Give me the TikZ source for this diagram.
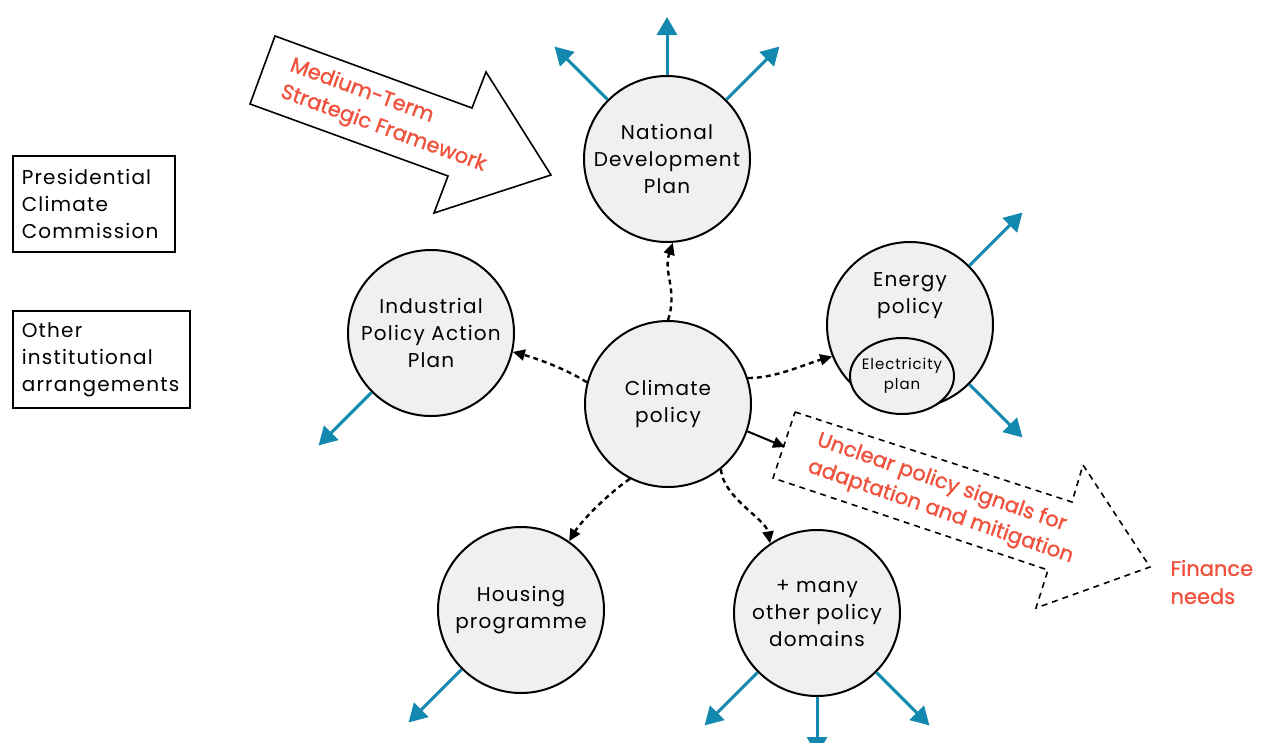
\documentclass[tikz,border=0pt]{standalone}
\usepackage{fontspec}
\setmainfont{Poppins}
\newfontfamily\labelfont[LetterSpace=6]{Poppins}
\newfontfamily\redfont[FakeBold=1.2]{Poppins}
\usepackage{xcolor}
\usepackage{tikz}
\usetikzlibrary{
  arrows.meta,
  shapes.geometric
}
\definecolor{flowblue}{RGB}{20,137,176}
\definecolor{signalred}{RGB}{240,82,62}
\definecolor{discfill}{RGB}{240,240,240}

\begin{document}
\begin{tikzpicture}[x=1pt, y=1pt, >=Stealth, font=\labelfont\fontsize{20}{27}\selectfont,
    policy/.style={circle, draw, line width=2pt, fill=discfill, minimum size=166pt, inner sep=0pt, align=center},
    infobox/.style={draw, line width=1.6pt, align=left, anchor=north west, inner xsep=9pt},
    outflow/.style={-{Triangle[length=18pt,width=20pt]}, flowblue, line width=3pt},
    link/.style={-{Triangle[length=12pt,width=11pt]}, line width=2.4pt, dash pattern=on 5pt off 4pt},
    redtext/.style={text=signalred, align=left, font=\redfont\fontsize{21}{28}\selectfont}]

    % 1. page frame
    \clip (0,0) rectangle (1261,-742);

    % 2. policy circles
    \node[policy] (ndp) at (667,-159) {National\\Development\\Plan};
    \node[policy] (climate) at (668,-404) {Climate\\policy};
    \node[policy] (ipap) at (431,-333) {Industrial\\Policy Action\\Plan};
    \node[policy] (energy) at (910,-325) {};
    \node[align=center] (energytxt) at (910,-296) {Energy\\policy};
    \node[ellipse, draw, line width=2pt, fill=discfill, minimum width=104pt, minimum height=76pt] (elec) at (902,-376) {};
    \node[align=center, font=\labelfont\fontsize{15}{20}\selectfont] (electxt) at (elec) {Electricity\\plan};
    \node[policy] (housing) at (521,-610) {Housing\\programme};
    \node[policy] (many) at (817,-613) {+ many\\other policy\\domains};

    % 3. boxes on the left
    \node[infobox, text width=144pt, minimum height=96pt] (pcc) at (12,-155) {Presidential\\Climate\\Commission};
    \node[infobox, text width=159pt, minimum height=97pt] (oia) at (12,-310) {Other\\institutional\\arrangements};

    % 4. outgoing blue arrows
    \foreach \n/\a/\l in {ndp/90/58, ndp/135/75, ndp/45/75, energy/45/75, energy/-45/75,
                          ipap/-135/75, housing/-135/75, many/-135/75, many/-90/58, many/-45/75}
        \draw[outflow] (\n.\a) -- ++(\a:\l);

    % 5. dashed links from climate policy
    \draw[link] (climate.north) .. controls +(10,30) and +(-10,-30) .. (ndp.-86);
    \draw[link] (climate.165) .. controls +(-22,14) and +(22,-6) .. (ipap.-13);
    \draw[link] (climate.18) .. controls +(28,0) and +(-28,-8) .. (energy.-158);
    \draw[link] (climate.-117) .. controls +(-22,-15) and +(12,20) .. (housing.55);
    \draw[link] (climate.-51) .. controls +(2,-28) and +(-4,24) .. (many.124);

    % 6. big arrows
    \draw[line width=1.6pt] (275,-36) -- (472,-108) -- (486,-72) -- (551,-175)
        -- (434,-213) -- (448,-176) -- (250,-104) -- cycle;
    \node[redtext, rotate=-20] (mtsf) at (388,-116) {Medium-Term\\Strategic Framework};

    \draw[line width=1.6pt, dash pattern=on 6pt off 5pt] (795,-412) -- (1072,-502) -- (1083,-465)
        -- (1150,-567) -- (1036,-608) -- (1048,-570) -- (773,-478) -- cycle;
    \node[redtext, rotate=-19] (signals) at (945,-499) {Unclear policy signals for\\adaptation and mitigation};
    \coordinate (sigtail) at (785,-447);
    \draw[-{Triangle[length=12pt,width=11pt]}, line width=2pt] (climate.-19) -- (sigtail);

    % 7. finance
    \node[redtext, anchor=west] (finance) at (1167,-582) {Finance\\needs};

\end{tikzpicture}
\end{document}
